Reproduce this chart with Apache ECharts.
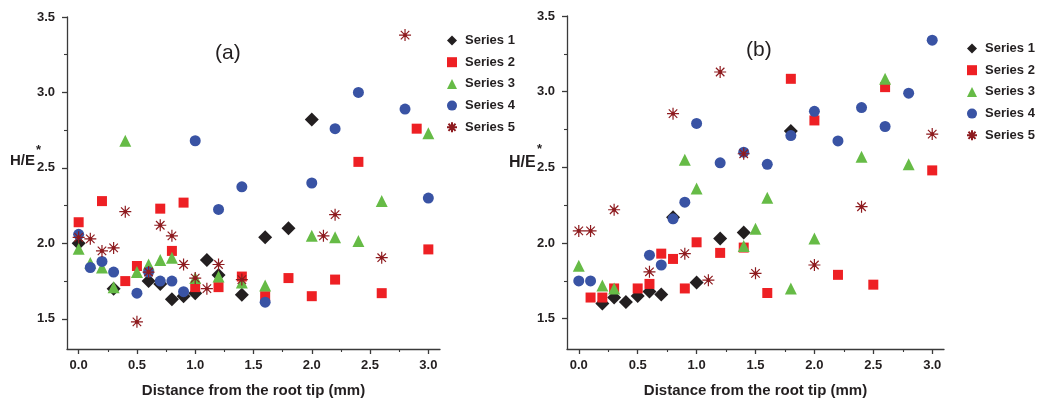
<!DOCTYPE html>
<html>
<head>
<meta charset="utf-8">
<script src="https://cdn.jsdelivr.net/npm/echarts@6/dist/echarts.min.js"></script>
<style>
  html, body { margin: 0; padding: 0; background: #fff; }
  #chart { width: 1038px; height: 403px; }
</style>
</head>
<body>
<div id="chart"></div>
<script>
// ---- data: [distance (mm), H/E*] ----
const seriesNames = ['Series 1', 'Series 2', 'Series 3', 'Series 4', 'Series 5'];

// panel (a)
const a1 = [[0.0,2.00],[0.3,1.70],[0.6,1.75],[0.7,1.73],[0.8,1.63],[0.9,1.65],[1.0,1.67],[1.1,1.89],[1.2,1.79],[1.4,1.66],[1.6,2.04],[1.8,2.10],[2.0,2.82]];
const a2 = [[0.0,2.14],[0.2,2.28],[0.4,1.75],[0.5,1.85],[0.7,2.23],[0.8,1.95],[0.9,2.27],[1.0,1.71],[1.2,1.71],[1.4,1.78],[1.6,1.65],[1.8,1.77],[2.0,1.65],[2.2,1.76],[2.4,2.54],[2.6,1.67],[2.9,2.76],[3.0,1.96]];
const a3 = [[0.0,1.965],[0.1,1.87],[0.2,1.84],[0.3,1.71],[0.4,2.68],[0.5,1.81],[0.6,1.86],[0.7,1.89],[0.8,1.905],[1.0,1.77],[1.2,1.78],[1.4,1.74],[1.6,1.72],[2.0,2.05],[2.2,2.04],[2.4,2.015],[2.6,2.28],[3.0,2.73]];
const a4 = [[0.0,2.06],[0.1,1.84],[0.2,1.88],[0.3,1.81],[0.5,1.67],[0.6,1.81],[0.7,1.75],[0.8,1.75],[0.9,1.68],[1.0,2.68],[1.2,2.225],[1.4,2.375],[1.6,1.61],[2.0,2.40],[2.2,2.76],[2.4,3.00],[2.8,2.89],[3.0,2.30]];
const a5 = [[0.0,2.04],[0.1,2.03],[0.2,1.95],[0.3,1.97],[0.4,2.21],[0.5,1.48],[0.6,1.81],[0.7,2.12],[0.8,2.05],[0.9,1.86],[1.0,1.77],[1.1,1.70],[1.2,1.86],[1.4,1.76],[2.1,2.05],[2.2,2.19],[2.6,1.905],[2.8,3.38]];

// panel (b)
const b1 = [[0.2,1.60],[0.3,1.64],[0.4,1.61],[0.5,1.65],[0.6,1.68],[0.7,1.66],[0.8,2.17],[1.0,1.74],[1.2,2.03],[1.4,2.07],[1.8,2.74]];
const b2 = [[0.1,1.64],[0.2,1.64],[0.3,1.70],[0.5,1.70],[0.6,1.73],[0.7,1.93],[0.8,1.895],[0.9,1.70],[1.0,2.005],[1.2,1.935],[1.4,1.97],[1.6,1.67],[1.8,3.085],[2.0,2.81],[2.2,1.79],[2.5,1.725],[2.6,3.03],[3.0,2.48]];
const b3 = [[0.0,1.85],[0.2,1.72],[0.3,1.70],[0.9,2.55],[1.0,2.36],[1.4,1.98],[1.5,2.095],[1.6,2.30],[1.8,1.70],[2.0,2.03],[2.4,2.57],[2.6,3.085],[2.8,2.52]];
const b4 = [[0.0,1.75],[0.1,1.75],[0.6,1.92],[0.7,1.855],[0.8,2.16],[0.9,2.27],[1.0,2.79],[1.2,2.53],[1.4,2.60],[1.6,2.52],[1.8,2.71],[2.0,2.87],[2.2,2.675],[2.4,2.895],[2.6,2.77],[2.8,2.99],[3.0,3.34]];
const b5 = [[0.0,2.08],[0.1,2.08],[0.3,2.22],[0.6,1.81],[0.8,2.855],[0.9,1.93],[1.1,1.755],[1.2,3.13],[1.4,2.59],[1.5,1.80],[2.0,1.855],[2.4,2.24],[3.0,2.72]];

// ---- axis ticks ----
const xMajor = [0.0, 0.5, 1.0, 1.5, 2.0, 2.5, 3.0];
const xMinor = [0.25, 0.75, 1.25, 1.75, 2.25, 2.75];
const yMajor = [1.5, 2.0, 2.5, 3.0, 3.5];
const yMinor = [1.75, 2.25, 2.75, 3.25];

const ink = '#231f20';
const axisInk = '#3a3a3a';
const font = '"Liberation Sans", Arial, sans-serif';

// eight-spoke asterisk with a filled centre
const asterisk = 'path://M0,10L20,10M10,0L10,20M2.93,2.93L17.07,17.07M2.93,17.07L17.07,2.93M7.8,7.8L12.2,7.8L12.2,12.2L7.8,12.2Z';

const styles = [
  { symbol: 'diamond',  symbolSize: 14, itemStyle: { color: ink, opacity: 1 } },
  { symbol: 'rect',     symbolSize: 10, itemStyle: { color: '#ee2024', opacity: 1 } },
  { symbol: 'triangle', symbolSize: 12, itemStyle: { color: '#66bb46', opacity: 1 } },
  { symbol: 'circle',   symbolSize: 11, itemStyle: { color: '#3953a4', opacity: 1 } },
  { symbol: asterisk,   symbolSize: 12, itemStyle: { color: '#8e1b1f', borderColor: '#8e1b1f', borderWidth: 1.2, opacity: 1 } }
];

const grids = [
  { left: 67, top: 17, width: 373, height: 332 },
  { left: 567, top: 16, width: 377, height: 336 }
];

function xAxes(gi) {
  return [
    {
      gridIndex: gi, type: 'value', min: -0.1, max: 3.1,
      splitLine: { show: false },
      axisLine: { onZero: false, lineStyle: { color: axisInk, width: 1.3 } },
      axisTick: { show: true, length: 5, customValues: xMajor, lineStyle: { color: axisInk, width: 1.3 } },
      axisLabel: { customValues: xMajor, formatter: v => v.toFixed(1), margin: 10,
                   color: ink, fontWeight: 'bold', fontSize: 13, fontFamily: font },
      name: 'Distance from the root tip (mm)', nameLocation: 'middle', nameGap: 34,
      nameTextStyle: { color: ink, fontWeight: 'bold', fontSize: 15, fontFamily: font }
    },
    {
      gridIndex: gi, type: 'value', min: -0.1, max: 3.1, position: 'bottom',
      splitLine: { show: false },
      axisLine: { show: false, onZero: false },
      axisTick: { show: true, length: 3, customValues: xMinor, lineStyle: { color: axisInk, width: 1.1 } },
      axisLabel: { show: false }
    }
  ];
}

function yAxes(gi) {
  return [
    {
      gridIndex: gi, type: 'value', min: 1.3, max: 3.5,
      splitLine: { show: false },
      axisLine: { show: true, onZero: false, lineStyle: { color: axisInk, width: 1.3 } },
      axisTick: { show: true, length: 5, customValues: yMajor, lineStyle: { color: axisInk, width: 1.3 } },
      axisLabel: { customValues: yMajor, formatter: v => v.toFixed(1), margin: 12,
                   color: ink, fontWeight: 'bold', fontSize: 13, fontFamily: font }
    },
    {
      gridIndex: gi, type: 'value', min: 1.3, max: 3.5, position: 'left',
      splitLine: { show: false },
      axisLine: { show: false, onZero: false },
      axisTick: { show: true, length: 3, customValues: yMinor, lineStyle: { color: axisInk, width: 1.1 } },
      axisLabel: { show: false }
    }
  ];
}

const panelData = [[a1, a2, a3, a4, a5], [b1, b2, b3, b4, b5]];
const series = [];
panelData.forEach((sets, gi) => {
  sets.forEach((d, si) => {
    series.push(Object.assign({
      type: 'scatter',
      name: seriesNames[si],
      xAxisIndex: gi * 2,
      yAxisIndex: gi * 2,
      data: d,
      z: 2 + si,
      emphasis: { disabled: true }
    }, styles[si]));
  });
});

function legendFor(gi, left, top) {
  return {
    orient: 'vertical', left: left, top: top,
    itemWidth: 10, itemHeight: 10, itemGap: 8.7,
    data: seriesNames,
    textStyle: { color: ink, fontWeight: 'bold', fontSize: 13, fontFamily: font, padding: [0, 0, 0, 3] },
    selectedMode: false
  };
}

const option = {
  animation: false,
  backgroundColor: '#fff',
  grid: grids,
  xAxis: xAxes(0).concat(xAxes(1)),
  yAxis: yAxes(0).concat(yAxes(1)),
  legend: [legendFor(0, 441, 29), legendFor(1, 961, 37)],
  title: [
    { text: '(a)', left: 210, top: 38, textStyle: { color: ink, fontWeight: 'normal', fontSize: 21, fontFamily: font } },
    { text: '(b)', left: 741, top: 35, textStyle: { color: ink, fontWeight: 'normal', fontSize: 21, fontFamily: font } }
  ],
  graphic: [
    { type: 'text', left: 10, top: 153, style: { text: 'H/E', fill: ink, font: 'bold 15px ' + font } },
    { type: 'text', left: 36, top: 144, style: { text: '*', fill: ink, font: 'bold 13px ' + font } },
    { type: 'text', left: 509, top: 155, style: { text: 'H/E', fill: ink, font: 'bold 16px ' + font } },
    { type: 'text', left: 537, top: 143, style: { text: '*', fill: ink, font: 'bold 13px ' + font } }
  ],
  series: series
};

const chart = echarts.init(document.getElementById('chart'), null, { renderer: 'canvas' });
chart.setOption(option);
</script>
</body>
</html>
